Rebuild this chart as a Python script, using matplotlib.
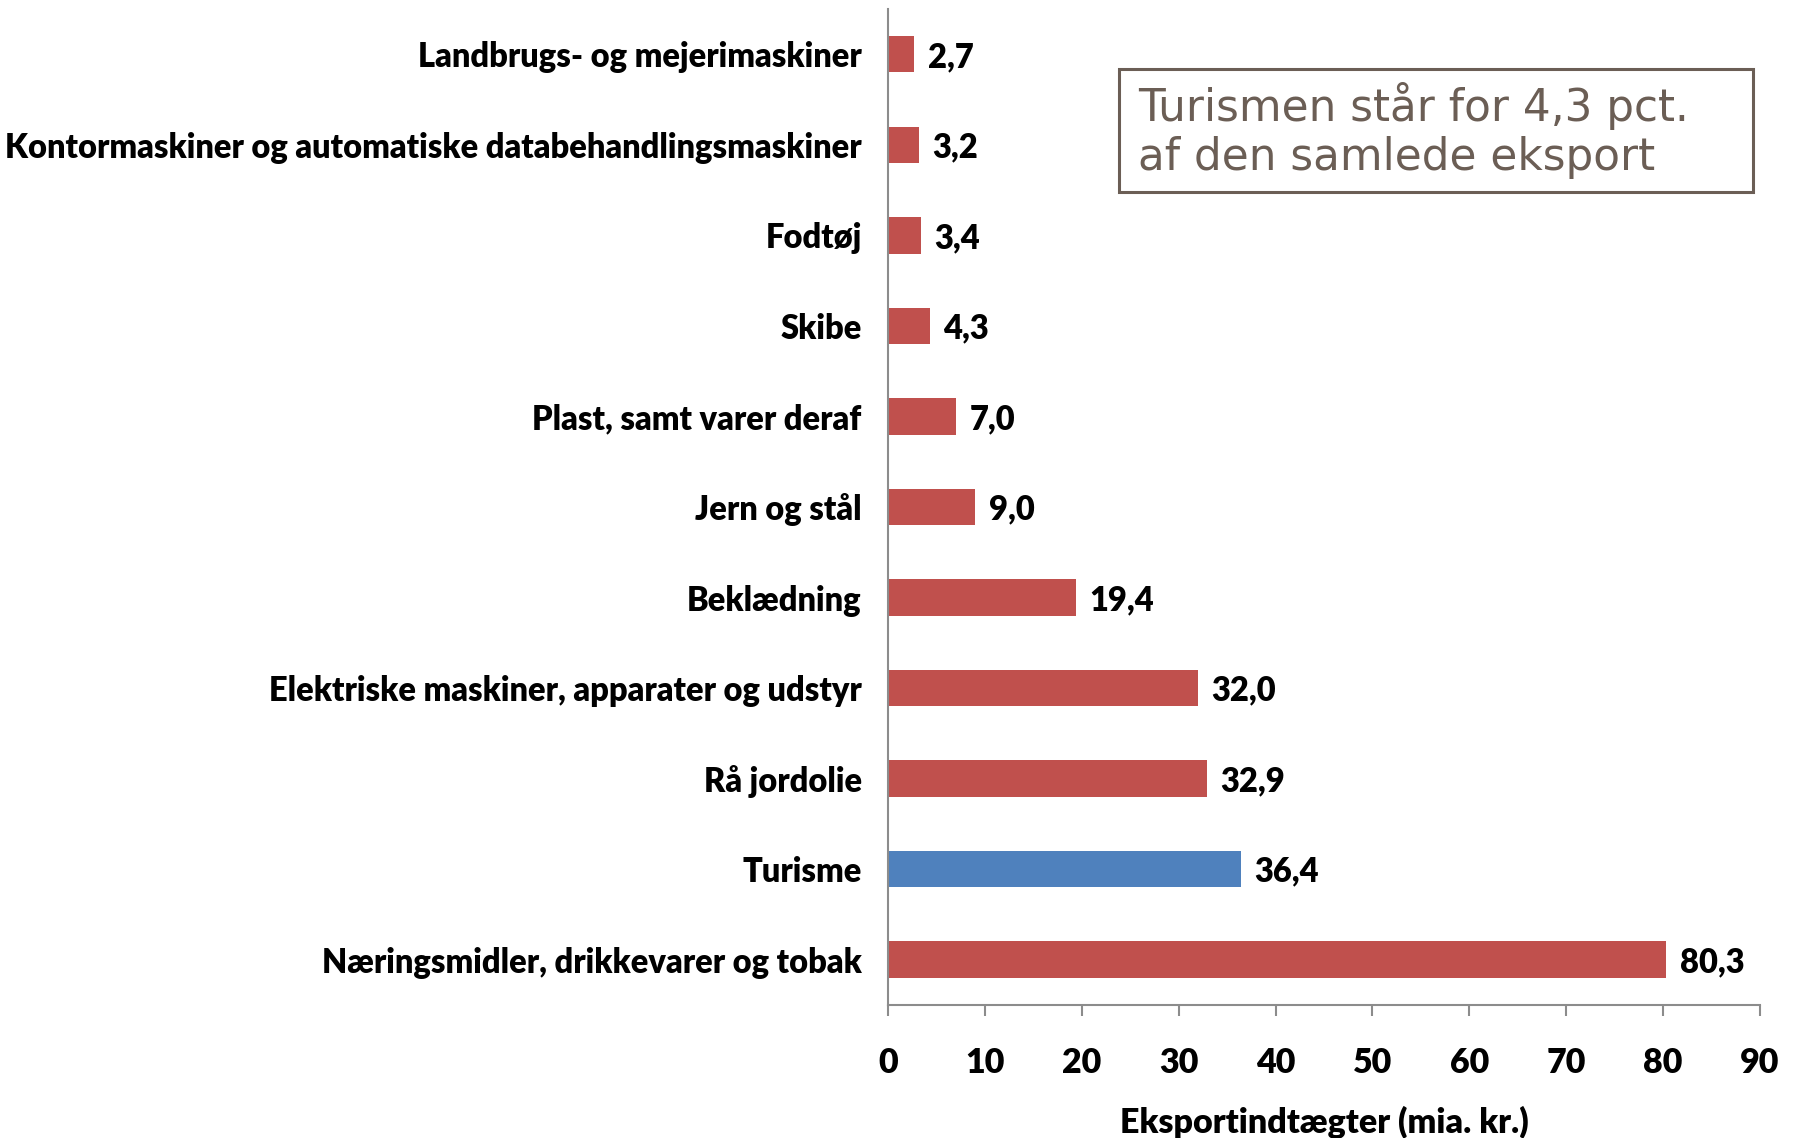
import matplotlib
matplotlib.use("Agg")
import matplotlib.pyplot as plt
from matplotlib.patches import Rectangle

categories = [
    "Næringsmidler, drikkevarer og tobak",
    "Turisme",
    "Rå jordolie",
    "Elektriske maskiner, apparater og udstyr",
    "Beklædning",
    "Jern og stål",
    "Plast, samt varer deraf",
    "Skibe",
    "Fodtøj",
    "Kontormaskiner og automatiske databehandlingsmaskiner",
    "Landbrugs- og mejerimaskiner",
]
values = [80.3, 36.4, 32.9, 32.0, 19.4, 9.0, 7.0, 4.3, 3.4, 3.2, 2.7]
highlight = "Turisme"
xticks = [0, 10, 20, 30, 40, 50, 60, 70, 80, 90]

RED = "#C0504D"
BLUE = "#4F81BD"
AXIS = "#8C8C8C"
BOX = "#6B5E55"
FONT = "Lato"
FW = "heavy"
FS = 23.5

fig = plt.figure(figsize=(17.94, 11.38), dpi=100)
ax = fig.add_axes([0.495, 0.117, 0.486, 0.875])

colors = [BLUE if c == highlight else RED for c in categories]
ypos = range(len(categories))
ax.barh(ypos, values, height=0.4, color=colors, zorder=2)

for y, v in zip(ypos, values):
    ax.text(v + 1.4, y - 0.03, f"{v:.1f}".replace(".", ","), ha="left", va="center",
            fontsize=FS, fontweight=FW, family=FONT)

ax.set_xlim(0, 90)
ax.set_ylim(-0.5, len(categories) - 0.5)
ax.set_yticks(list(ypos))
ax.set_yticklabels(categories, fontsize=FS, fontweight=FW, family=FONT)
ax.set_xticks(xticks)
ax.set_xticklabels([str(t) for t in xticks], fontsize=FS + 1, fontweight=FW, family=FONT)
ax.tick_params(axis="y", length=0, pad=19)
ax.tick_params(axis="x", length=8, color=AXIS, pad=22, width=1.5)
for side in ["top", "right"]:
    ax.spines[side].set_visible(False)
for side in ["left", "bottom"]:
    ax.spines[side].set_color(AXIS)
    ax.spines[side].set_linewidth(1.5)

ax.set_xlabel("Eksportindtægter (mia. kr.)", fontsize=FS + 1, fontweight=FW,
              family=FONT, labelpad=20)

# note box
fig.add_artist(Rectangle((0.6237, 0.8313), 0.3534, 0.108, transform=fig.transFigure,
                         facecolor="white", edgecolor=BOX, linewidth=2.2, zorder=3))
fig.text(0.6344, 0.885, "Turismen står for 4,3 pct.\naf den samlede eksport",
         fontsize=31.5, color=BOX, family="DejaVu Sans", ha="left", va="center",
         linespacing=1.18, zorder=4)

fig.savefig("out.png", dpi=100, facecolor="white")
